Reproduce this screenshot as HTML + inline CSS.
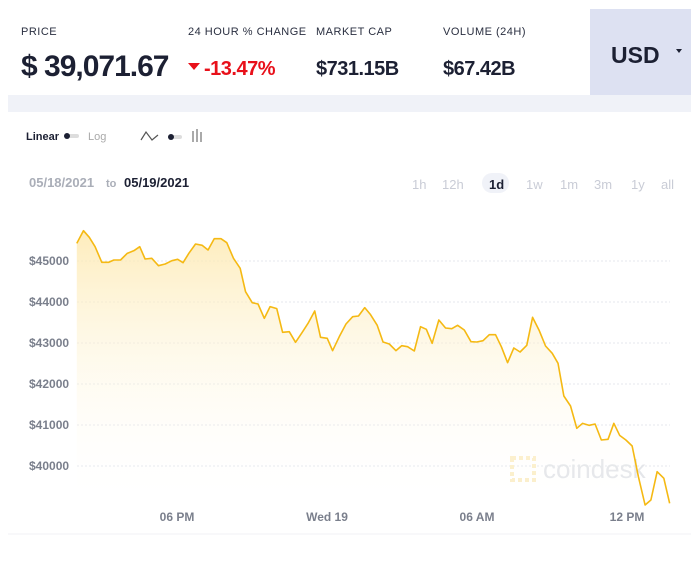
<!DOCTYPE html>
<html><head><meta charset="utf-8"><style>
body{margin:0;width:700px;height:561px;background:#fff;font-family:"Liberation Sans",sans-serif;position:relative;overflow:hidden;color:#1c2033}
.a{position:absolute;white-space:nowrap}
.lbl{font-size:11px;letter-spacing:0.5px;color:#2a2f40;top:26px}
.val{font-size:20px;font-weight:bold;top:58px;letter-spacing:-0.5px}
.tf{font-size:13px;color:#c9ccd6;top:177px}
</style></head><body>
<div class="a lbl" style="left:21px">PRICE</div>
<div class="a lbl" style="left:188px">24 HOUR % CHANGE</div>
<div class="a lbl" style="left:316px">MARKET CAP</div>
<div class="a lbl" style="left:443px">VOLUME (24H)</div>
<div class="a" style="left:21px;top:50px;font-size:30px;font-weight:bold;letter-spacing:-1px">$ 39,071.67</div>
<div class="a" style="left:188px;top:63px;width:0;height:0;border-left:6px solid transparent;border-right:6px solid transparent;border-top:7px solid #e8101a"></div>
<div class="a val" style="left:204px;color:#e8101a">-13.47%</div>
<div class="a val" style="left:316px">$731.15B</div>
<div class="a val" style="left:443px">$67.42B</div>
<div class="a" style="left:590px;top:9px;width:101px;height:86px;background:#dde1f2"></div>
<div class="a" style="left:611px;top:42px;font-size:23px;font-weight:bold;color:#1c2033">USD</div>
<div class="a" style="left:676px;top:49px;width:0;height:0;border-left:3px solid transparent;border-right:3px solid transparent;border-top:4px solid #1c2033"></div>
<div class="a" style="left:8px;top:95px;width:683px;height:17px;background:#f0f2f8"></div>
<div class="a" style="left:26px;top:131px;font-size:11px;font-weight:bold">Linear</div>
<div class="a" style="left:65px;top:134px;width:14px;height:4px;background:#ddd;border-radius:2px"></div>
<div class="a" style="left:64px;top:133px;width:6px;height:6px;background:#1c2033;border-radius:3px"></div>
<div class="a" style="left:88px;top:131px;font-size:11px;color:#aaa">Log</div>
<svg class="a" style="left:140px;top:128px" width="70" height="16"><polyline points="1,12 6,4 12,12 18,7" fill="none" stroke="#555" stroke-width="1.2"/><rect x="28" y="7" width="14" height="4" rx="2" fill="#ddd"/><circle cx="31" cy="9" r="3" fill="#1c2033"/><rect x="52" y="3" width="2" height="11" fill="#aaa"/><rect x="56" y="1" width="2" height="13" fill="#aaa"/><rect x="60" y="4" width="2" height="10" fill="#aaa"/></svg>
<div class="a" style="left:29px;top:175px;font-size:13px;font-weight:bold;color:#aaaeb8">05/18/2021</div>
<div class="a" style="left:106px;top:178px;font-size:11px;font-weight:bold;color:#aaaeb8">to</div>
<div class="a" style="left:124px;top:175px;font-size:13px;font-weight:bold;color:#1c2033">05/19/2021</div>
<div class="a tf" style="left:412px">1h</div>
<div class="a tf" style="left:442px">12h</div>
<div class="a" style="left:482px;top:173px;width:27px;height:20px;border-radius:10px;background:#f0f2f8"></div>
<div class="a tf" style="left:489px;color:#1c2033;font-weight:bold">1d</div>
<div class="a tf" style="left:526px">1w</div>
<div class="a tf" style="left:560px">1m</div>
<div class="a tf" style="left:594px">3m</div>
<div class="a tf" style="left:631px">1y</div>
<div class="a tf" style="left:661px">all</div>
<svg class="a" style="left:0;top:0" width="700" height="561">
<defs><linearGradient id="g" x1="0" y1="0" x2="0" y2="1"><stop offset="0" stop-color="#fde9b0" stop-opacity="0.85"/><stop offset="1" stop-color="#fff" stop-opacity="0"/></linearGradient></defs>
<g stroke="#e4e7ee" stroke-dasharray="2,2" stroke-width="1">
<line x1="77" x2="670" y1="261" y2="261"/><line x1="77" x2="670" y1="302" y2="302"/><line x1="77" x2="670" y1="343" y2="343"/><line x1="77" x2="670" y1="384" y2="384"/><line x1="77" x2="670" y1="425" y2="425"/><line x1="77" x2="670" y1="466" y2="466"/></g>
<g font-size="12" font-weight="bold" fill="#7a7f8c" font-family="Liberation Sans,sans-serif">
<text x="29" y="265">$45000</text><text x="29" y="306">$44000</text><text x="29" y="347">$43000</text><text x="29" y="388">$42000</text><text x="29" y="429">$41000</text><text x="29" y="470">$40000</text>
<text x="177" y="521" text-anchor="middle">06 PM</text><text x="327" y="521" text-anchor="middle">Wed 19</text><text x="477" y="521" text-anchor="middle">06 AM</text><text x="627" y="521" text-anchor="middle">12 PM</text></g>
<text x="543" y="478" font-size="26" fill="#e4e6ea" font-family="Liberation Sans,sans-serif">coindesk</text>
<rect x="512" y="458" width="22" height="22" fill="none" stroke="#fbeec8" stroke-width="4" stroke-dasharray="4,3"/>
<line x1="8" x2="691" y1="534" y2="534" stroke="#f0f2f5"/>
<g transform="translate(0,200) scale(0.44643,0.33333)">
<path fill="url(#g)" d="M172,130 L187,92 200,112 213,140 228,187 243,187 255,180 270,180 285,160 300,152 313,140 325,177 340,175 355,197 370,192 385,182 398,178 410,188 423,160 438,132 453,136 466,150 480,116 495,116 508,128 523,175 538,205 550,275 565,308 578,312 592,355 605,320 620,326 633,397 648,395 662,427 677,397 690,370 705,333 718,412 733,415 745,452 760,410 775,372 790,350 803,348 817,323 830,344 845,376 858,426 872,432 887,452 900,437 913,440 928,453 942,380 955,388 968,430 983,360 998,384 1012,386 1025,376 1040,390 1055,425 1068,426 1082,422 1096,404 1110,404 1123,440 1137,488 1151,444 1165,456 1180,436 1193,352 1208,392 1222,438 1237,460 1250,490 1263,588 1278,618 1292,685 1305,670 1320,676 1333,672 1347,720 1362,718 1375,670 1388,706 1402,720 1416,738 1430,830 1445,915 1458,900 1472,815 1487,835 1500,910 L1500,920 L172,920 Z"/>
<polyline fill="none" stroke="#f5b913" stroke-width="1.6" vector-effect="non-scaling-stroke" stroke-linejoin="round" points="172,130 187,92 200,112 213,140 228,187 243,187 255,180 270,180 285,160 300,152 313,140 325,177 340,175 355,197 370,192 385,182 398,178 410,188 423,160 438,132 453,136 466,150 480,116 495,116 508,128 523,175 538,205 550,275 565,308 578,312 592,355 605,320 620,326 633,397 648,395 662,427 677,397 690,370 705,333 718,412 733,415 745,452 760,410 775,372 790,350 803,348 817,323 830,344 845,376 858,426 872,432 887,452 900,437 913,440 928,453 942,380 955,388 968,430 983,360 998,384 1012,386 1025,376 1040,390 1055,425 1068,426 1082,422 1096,404 1110,404 1123,440 1137,488 1151,444 1165,456 1180,436 1193,352 1208,392 1222,438 1237,460 1250,490 1263,588 1278,618 1292,685 1305,670 1320,676 1333,672 1347,720 1362,718 1375,670 1388,706 1402,720 1416,738 1430,830 1445,915 1458,900 1472,815 1487,835 1500,910"/>
</g>
</svg>
</body></html>
